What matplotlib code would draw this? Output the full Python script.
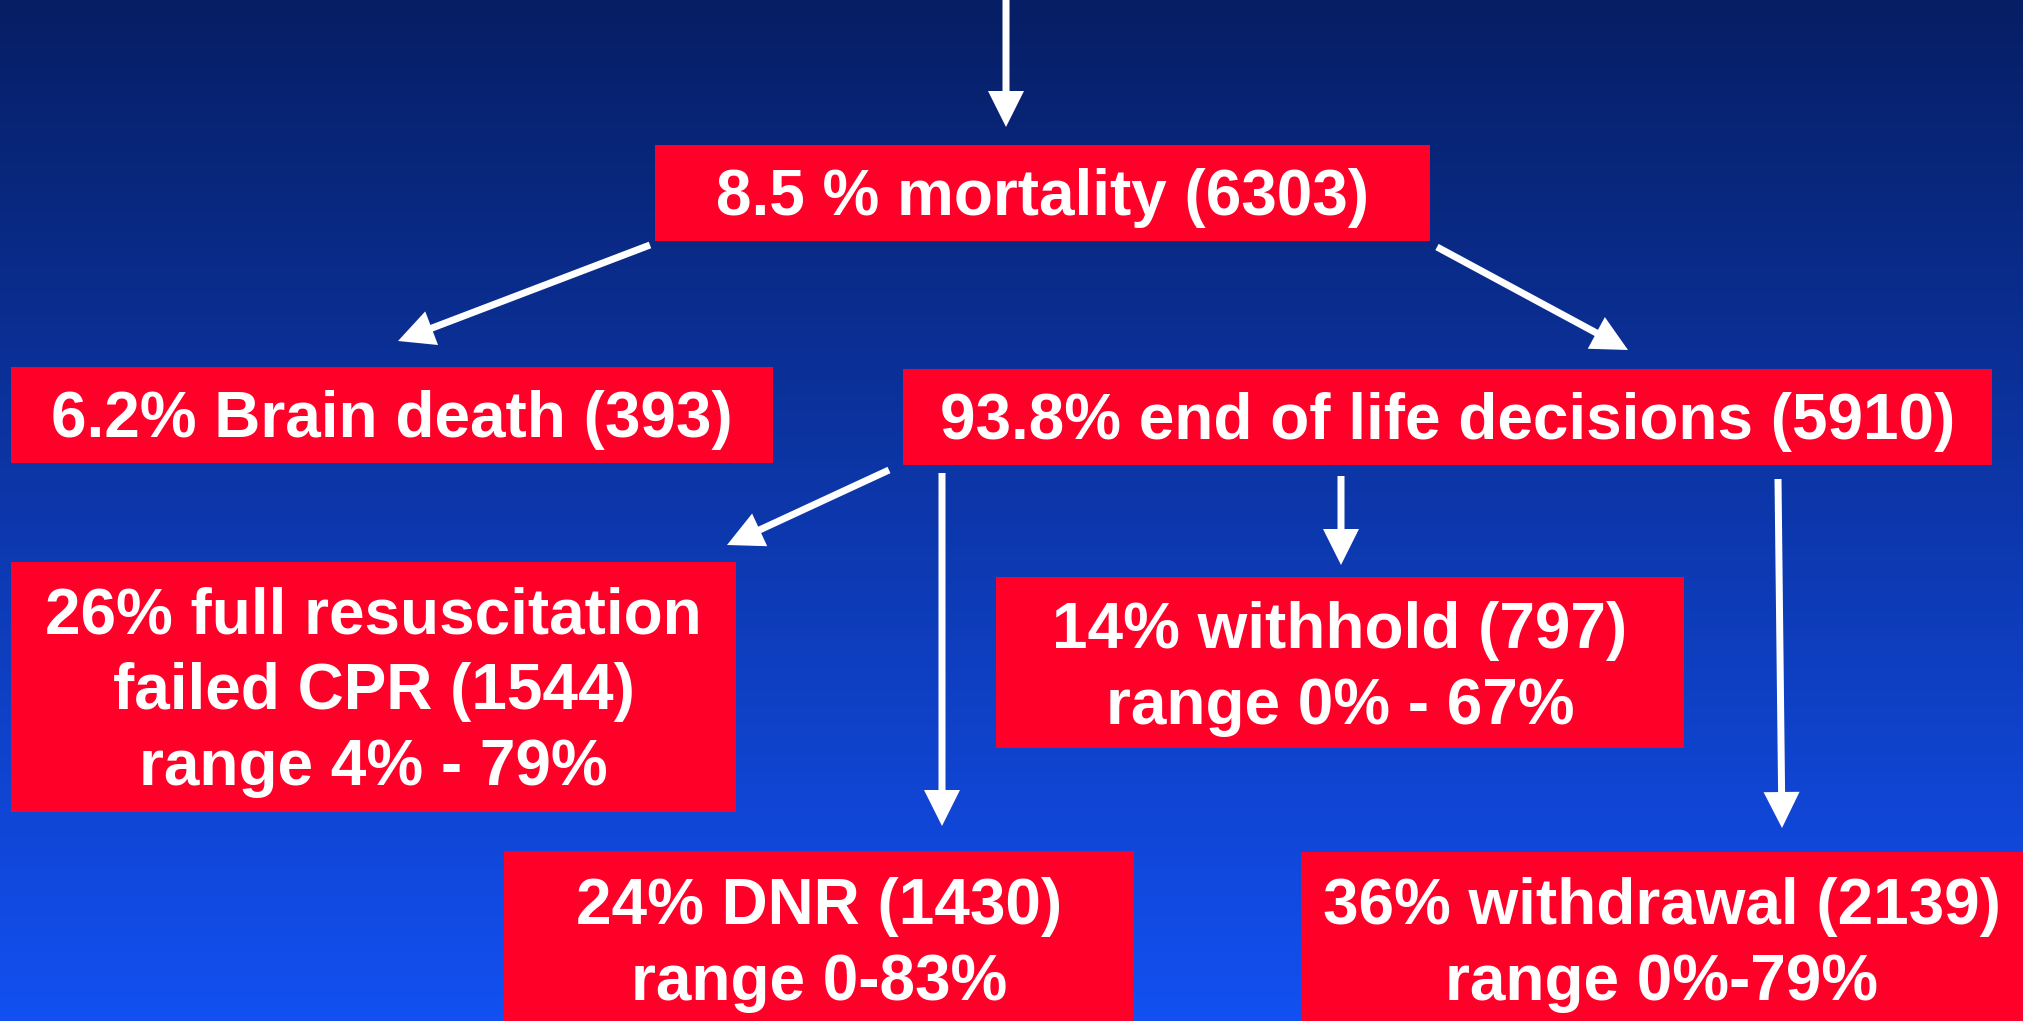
import matplotlib
matplotlib.use('Agg')
import matplotlib.pyplot as plt
from matplotlib.patches import Rectangle, FancyArrow
import numpy as np

plt.rcParams['font.family'] = ['Liberation Sans', 'DejaVu Sans']

# box texts
labels = [
    "8.5 % mortality (6303)",
    "6.2% Brain death (393)",
    "93.8% end of life decisions (5910)",
    "26% full resuscitation\nfailed CPR (1544)\nrange 4% - 79%",
    "14% withhold (797)\nrange 0% - 67%",
    "24% DNR (1430)\nrange 0-83%",
    "36% withdrawal (2139)\nrange 0%-79%",
]

# layout in pixels (x, y top, w, h)
boxes = [
    (655, 145, 775, 96),
    (11, 367, 762, 96),
    (903, 369, 1089, 96),
    (11, 562, 725, 250),
    (996, 577, 688, 171),
    (504, 851, 630, 200),
    (1301, 852, 722, 200),
]
text_y = [198, 420, 422, 692, 669, 945, 945]

# arrows (x0, y0, x1, y1)
arrows = [
    (1006, 0, 1006, 127),
    (650, 245, 398, 341),
    (1437, 247, 1628, 350),
    (889, 470, 727, 545),
    (942, 473, 942, 826),
    (1341, 476, 1341, 565),
    (1778, 479, 1782, 828),
]

W, H = 2023, 1021
fig = plt.figure(figsize=(W / 100, H / 100), dpi=100)
ax = fig.add_axes([0, 0, 1, 1])
ax.set_xlim(0, W)
ax.set_ylim(H, 0)
ax.axis('off')

# background gradient
top = np.array([6, 30, 100]) / 255
bot = np.array([19, 80, 242]) / 255
t = np.linspace(0, 1, 256)[:, None]
grad = top + (bot - top) * t
ax.imshow(grad[:, None, :].repeat(2, axis=1), extent=(0, W, H, 0), aspect='auto', zorder=0)

red = '#ff0029'
for (x, y, w, h), lab, ty in zip(boxes, labels, text_y):
    ax.add_patch(Rectangle((x, y), w, h, facecolor=red, edgecolor='none', zorder=2))
    ax.text(x + w / 2, ty, lab, ha='center', va='center', color='white',
            fontsize=46, fontweight='bold', linespacing=1.33, zorder=3)

for x0, y0, x1, y1 in arrows:
    ax.add_patch(FancyArrow(x0, y0, x1 - x0, y1 - y0, width=7, head_width=36,
                            head_length=36, length_includes_head=True,
                            facecolor='white', edgecolor='none', zorder=4))

fig.savefig('out.png', dpi=100)
